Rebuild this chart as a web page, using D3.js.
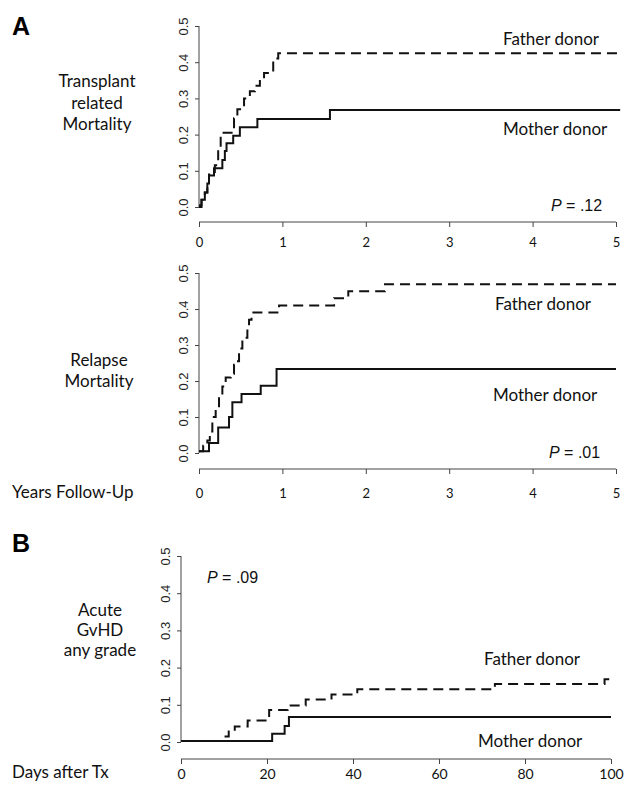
<!DOCTYPE html>
<head>
<meta charset="utf-8">
<script src="https://d3js.org/d3.v7.min.js"></script>
<style>
  body { margin: 0; background: #fff; }
  .lbl { font-family: Lato, "Open Sans", sans-serif; fill: #111; }
  .ytick { font: 13px "Liberation Sans", Arial, sans-serif; fill: #222; }
  .axis path, .axis line { stroke: #444; stroke-width: 1; }
  .curve { fill: none; stroke: #111; stroke-width: 2; }
</style>
</head>
<body>
<script>
// data: [time, cumulative incidence] step points
let trmFather = [[0,0.005],[0.03,0.02],[0.07,0.04],[0.10,0.065],[0.12,0.09],[0.19,0.115],[0.23,0.16],[0.26,0.205],
  [0.42,0.245],[0.46,0.27],[0.54,0.30],[0.61,0.32],[0.67,0.335],[0.73,0.355],[0.78,0.37],[0.89,0.41],[0.95,0.425],[5.02,0.425]];
let trmMother = [[0,0.0],[0.03,0.02],[0.07,0.04],[0.10,0.065],[0.12,0.087],[0.18,0.107],[0.28,0.13],[0.31,0.155],
  [0.33,0.176],[0.41,0.197],[0.49,0.22],[0.70,0.243],[1.57,0.268],[5.05,0.268]];
let relFather = [[0,0.005],[0.05,0.02],[0.10,0.035],[0.13,0.06],[0.16,0.10],[0.20,0.12],[0.24,0.16],[0.28,0.185],
  [0.32,0.21],[0.38,0.22],[0.42,0.245],[0.45,0.255],[0.48,0.29],[0.52,0.32],[0.58,0.34],[0.60,0.37],[0.63,0.39],
  [0.96,0.41],[1.62,0.43],[1.79,0.449],[2.23,0.469],[5.0,0.469]];
let relMother = [[0,0.005],[0.12,0.028],[0.23,0.071],[0.36,0.10],[0.40,0.141],[0.51,0.164],[0.74,0.187],[0.93,0.233],[5.0,0.233]];
let gvhdFather = [[0,0.003],[10,0.015],[11.1,0.028],[12.5,0.042],[15.5,0.058],[20.5,0.086],[24.8,0.098],[29,0.114],
  [35,0.128],[41,0.142],[73,0.156],[98.5,0.169],[100,0.169]];
let gvhdMother = [[0,0.003],[21.2,0.022],[24.1,0.043],[25.1,0.067],[100,0.067]];

let yearTicks = [0, 1, 2, 3, 4, 5];
let dayTicks = [0, 20, 40, 60, 80, 100];
let probTicks = [0, 0.1, 0.2, 0.3, 0.4, 0.5];
let pValues = [".12", ".01", ".09"];

const W = 627, H = 785;
const svg = d3.select("body").append("svg").attr("width", W).attr("height", H);

// panel layout
let panels = [
  { father: trmFather, mother: trmMother, xdom: [0, 5], xt: yearTicks, x0: 199, x1: 616, y0: 207, y1: 26, xaxisY: 222, tickFont: 13, tickY: 16,
    fatherLbl: [503, 45], motherLbl: [503, 135], p: pValues[0], pPos: [551, 211] },
  { father: relFather, mother: relMother, xdom: [0, 5], xt: yearTicks, x0: 199, x1: 616, y0: 453, y1: 273, xaxisY: 469, tickFont: 13, tickY: 20,
    fatherLbl: [495, 310], motherLbl: [493, 401], p: pValues[1], pPos: [549, 458] },
  { father: gvhdFather, mother: gvhdMother, xdom: [0, 100], xt: dayTicks, x0: 181, x1: 611, y0: 742, y1: 556, xaxisY: 759, tickFont: 14, tickY: 10,
    fatherLbl: [484, 665], motherLbl: [478, 747], p: pValues[2], pPos: [207, 583] }
];

panels.forEach(p => {
  let x = d3.scaleLinear().domain(p.xdom).range([p.x0, p.x1]);
  let y = d3.scaleLinear().domain([0, 0.5]).range([p.y0, p.y1]);

  // y axis
  let ya = svg.append("g").attr("class", "axis").attr("transform", `translate(${p.x0},0)`)
    .call(d3.axisLeft(y).tickValues(probTicks).tickSize(4).tickSizeOuter(0).tickFormat(d3.format(".1f")));
  ya.selectAll("text").attr("class", "ytick").attr("transform", "rotate(-90)")
    .attr("x", 0).attr("y", -11).attr("dy", 0).attr("text-anchor", "middle");

  // x axis
  let xa = svg.append("g").attr("class", "axis").attr("transform", `translate(0,${p.xaxisY})`)
    .call(d3.axisBottom(x).tickValues(p.xt).tickSize(5).tickSizeOuter(0).tickFormat(d3.format("d")));
  xa.selectAll("text").attr("class", "lbl").style("font-size", p.tickFont + "px")
    .attr("y", p.tickY).attr("dy", "0.71em");
  ya.select(".domain").attr("d", `M0,${p.y0}V${p.y1}`);
  xa.select(".domain").attr("d", `M${p.x0},0H${p.x1}`);

  let line = d3.line().x(d => x(d[0])).y(d => y(d[1])).curve(d3.curveStepAfter);
  svg.append("path").datum(p.mother).attr("class", "curve").attr("d", line);
  svg.append("path").datum(p.father).attr("class", "curve").attr("stroke-dasharray", "10,6").attr("d", line);

  svg.append("text").attr("class", "lbl").style("font-size", "17px")
    .attr("x", p.fatherLbl[0]).attr("y", p.fatherLbl[1]).text("Father donor");
  svg.append("text").attr("class", "lbl").style("font-size", "17px")
    .attr("x", p.motherLbl[0]).attr("y", p.motherLbl[1]).text("Mother donor");

  let pt = svg.append("text").attr("x", p.pPos[0]).attr("y", p.pPos[1])
    .style("font", "16px 'Liberation Sans', Arial, sans-serif").attr("fill", "#111");
  pt.append("tspan").style("font-style", "italic").text("P");
  pt.append("tspan").text(" = " + p.p);
});

// panel letters
svg.append("text").attr("x", 12).attr("y", 35).text("A")
  .style("font", "bold 25px 'Liberation Sans', Arial, sans-serif");
svg.append("text").attr("x", 12).attr("y", 552).text("B")
  .style("font", "bold 25px 'Liberation Sans', Arial, sans-serif");

// row labels
function rowLabel(lines, cx, y0, dy) {
  let t = svg.append("text").attr("class", "lbl").style("font-size", "17px").attr("text-anchor", "middle");
  lines.forEach((s, i) => t.append("tspan").attr("x", cx).attr("y", y0 + i * dy).text(s));
}
rowLabel(["Transplant", "related", "Mortality"], 97, 87, 21.5);
rowLabel(["Relapse", "Mortality"], 99, 366, 21);
rowLabel(["Acute", "GvHD", "any grade"], 100, 616, 20);

svg.append("text").attr("class", "lbl").style("font-size", "17px").attr("x", 12).attr("y", 778).text("Days after Tx");
svg.append("text").attr("class", "lbl").style("font-size", "17px").attr("x", 12).attr("y", 498).text("Years Follow-Up");
</script>
</body>
</html>
